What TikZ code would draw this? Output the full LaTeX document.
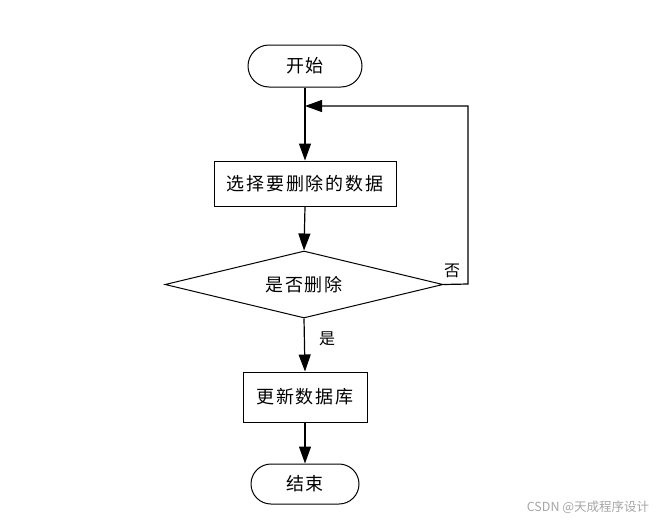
\documentclass[tikz,border=0pt]{standalone}
\usepackage{fontspec}
\setmainfont{Noto Sans CJK SC}
\usetikzlibrary{shapes.geometric,shapes.misc,arrows.meta}
\begin{document}
\begin{tikzpicture}[x=1pt,y=-1pt,
  every node/.style={font=\fontsize{18}{20}\selectfont\addfontfeatures{LetterSpace=10}, inner sep=0pt},
  term/.style={draw, rounded rectangle, line width=1pt, minimum width=#1, minimum height=42pt},
  proc/.style={draw, rectangle, line width=1pt},
  dec/.style={draw, diamond, line width=1pt},
  conn/.style={line width=1.2pt, -{Triangle[length=17pt,width=12pt]}},
  lbl/.style={font=\fontsize{16}{18}\selectfont}]
\useasboundingbox (0,0) rectangle (656,520);
\node[term=114pt] (start) at (305,66) {开始};
\node[proc, minimum width=182pt, minimum height=45pt] (sel) at (305,183.5) {选择要删除的数据};
\node[dec, minimum width=278pt, minimum height=67pt, aspect=4.15] (dec) at (304,284.5) {是否删除};
\node[proc, minimum width=124pt, minimum height=50pt] (upd) at (305,397) {更新数据库};
\node[term=108pt, minimum height=40pt] (end) at (305,484) {结束};
\coordinate (join) at (305,106);
\coordinate (rc) at (468,284);
\coordinate (rt) at (468,106);
\draw[line width=1.2pt] (start.south) -- (join);
\draw[conn] (join) -- (sel.north);
\draw[conn] (sel.south) -- (dec.north);
\draw[conn] (dec.south) -- (upd.north);
\draw[conn] (upd.south) -- (end.north);
\draw[conn] (dec.east) -- (rc) -- (rt) -- (join);
\node[lbl] (no) at (452,271) {否};
\node[lbl] (yes) at (327,339) {是};
\node[font=\fontsize{12.5}{14}\selectfont, text=black!35] (wm) at (588,507) {CSDN @天成程序设计};
\end{tikzpicture}
\end{document}
